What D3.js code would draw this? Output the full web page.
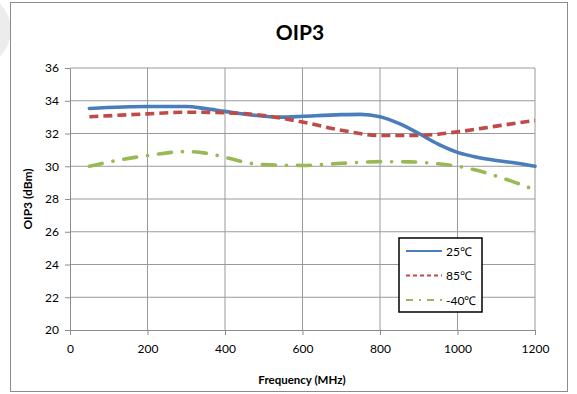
<!DOCTYPE html>
<html>
<head>
<meta charset="utf-8">
<script src="https://cdn.jsdelivr.net/npm/d3@7"></script>
<style>
body { margin: 0; background: #fff; }
svg text { font-family: Lato, "Open Sans", sans-serif; fill: #000; }
</style>
</head>
<body>
<svg id="chart" width="577" height="394"></svg>
<script>
// values
let freq25 = [50, 200, 300, 350, 400, 500, 550, 600, 700, 750, 800, 850, 900, 950, 1000, 1050, 1100, 1150, 1200];
let oip25  = [33.53, 33.65, 33.65, 33.52, 33.35, 33.06, 33.0, 33.05, 33.15, 33.17, 33.02, 32.6, 32.0, 31.35, 30.85, 30.55, 30.35, 30.2, 30.0];

let freq85 = [50, 200, 300, 400, 500, 600, 700, 800, 900, 1000, 1100, 1200];
let oip85  = [33.02, 33.2, 33.3, 33.27, 33.1, 32.7, 32.2, 31.88, 31.88, 32.1, 32.45, 32.8];

let freqM40 = [50, 120, 200, 300, 350, 400, 450, 500, 600, 700, 800, 875, 950, 1000, 1050, 1100, 1150, 1200];
let oipM40  = [30.0, 30.35, 30.65, 30.9, 30.8, 30.55, 30.25, 30.1, 30.05, 30.18, 30.28, 30.27, 30.15, 30.0, 29.75, 29.4, 29.0, 28.55];

let xTicks = [0, 200, 400, 600, 800, 1000, 1200];
let yTicks = [20, 22, 24, 26, 28, 30, 32, 34, 36];

let series = [
    {name: "25\u2103", x: freq25, y: oip25, color: "#4a7ebb", dash: null, cap: "round"},
    {name: "85\u2103", x: freq85, y: oip85, color: "#be4b48", dash: "9,5", cap: "butt"},
    {name: "-40\u2103", x: freqM40, y: oipM40, color: "#98b954", dash: "13,11,0.1,11", cap: "round"}
];

let svg = d3.select("#chart");

// faint grey blob behind the frame, top left
svg.append("circle")
    .attr("cx", -26).attr("cy", 30).attr("r", 37)
    .attr("fill", "#ececec");

// outer frame
svg.append("rect")
    .attr("x", 10.5).attr("y", 2.5)
    .attr("width", 557).attr("height", 389)
    .attr("fill", "#fff")
    .attr("stroke", "#8c8c8c");

let plotL = 70, plotR = 535, plotT = 68, plotB = 330;

let x = d3.scaleLinear().domain([0, 1200]).range([plotL, plotR]);
let y = d3.scaleLinear().domain([20, 36]).range([plotB, plotT]);

// grid
svg.append("g").selectAll("line")
    .data(xTicks.slice(1))
    .enter().append("line")
    .attr("x1", d => x(d)).attr("x2", d => x(d))
    .attr("y1", plotT).attr("y2", plotB)
    .attr("stroke", "#9a9a9a").attr("stroke-width", 1);

svg.append("g").selectAll("line")
    .data(yTicks.slice(1))
    .enter().append("line")
    .attr("x1", plotL).attr("x2", plotR)
    .attr("y1", d => y(d)).attr("y2", d => y(d))
    .attr("stroke", "#9a9a9a").attr("stroke-width", 1);

// axes
let xAxis = svg.append("g")
    .attr("transform", "translate(0," + plotB + ")")
    .call(d3.axisBottom(x).tickValues(xTicks).tickFormat(d3.format("d"))
        .tickSize(5).tickPadding(9).tickSizeOuter(0));
let yAxis = svg.append("g")
    .attr("transform", "translate(" + plotL + ",0)")
    .call(d3.axisLeft(y).tickValues(yTicks).tickFormat(d3.format("d"))
        .tickSize(5).tickPadding(6).tickSizeOuter(0));

[xAxis, yAxis].forEach(function(a){
    a.selectAll("path, line").attr("stroke", "#8c8c8c");
    a.selectAll("text").style("font-size", "12px");
});

// lines
let line = d3.line()
    .x(d => x(d[0]))
    .y(d => y(d[1]))
    .curve(d3.curveMonotoneX);

series.forEach(function(s){
    let pts = s.x.map((v, i) => [v, s.y[i]]);
    svg.append("path")
        .datum(pts)
        .attr("d", line)
        .attr("fill", "none")
        .attr("stroke", s.color)
        .attr("stroke-width", 3.6)
        .attr("stroke-linecap", s.cap)
        .attr("stroke-dasharray", s.dash);
});

// title and axis labels
svg.append("text")
    .attr("x", 300).attr("y", 40)
    .attr("text-anchor", "middle")
    .style("font-size", "21px").style("font-weight", "bold")
    .text("OIP3");

svg.append("text")
    .attr("x", 302).attr("y", 384)
    .attr("text-anchor", "middle")
    .style("font-size", "11.5px").style("font-weight", "bold")
    .text("Frequency (MHz)");

svg.append("text")
    .attr("transform", "translate(32,199) rotate(-90)")
    .attr("text-anchor", "middle")
    .style("font-size", "12px").style("font-weight", "bold")
    .text("OIP3 (dBm)");

// legend
let legend = svg.append("g");
legend.append("rect")
    .attr("x", 399).attr("y", 238)
    .attr("width", 83).attr("height", 74)
    .attr("fill", "#fff")
    .attr("stroke", "#000").attr("stroke-width", 1.5);

series.forEach(function(s, i){
    let ly = 251 + i * 24.5;
    legend.append("line")
        .attr("x1", 406).attr("x2", 442)
        .attr("y1", ly).attr("y2", ly)
        .attr("stroke", s.color)
        .attr("stroke-width", 2)
        .attr("stroke-dasharray", i == 0 ? null : (i == 1 ? "4,3" : "7,6,2,6"));
    legend.append("text")
        .attr("x", 446).attr("y", ly + 4.5)
        .style("font-size", "12px")
        .text(s.name);
});
</script>
</body>
</html>
